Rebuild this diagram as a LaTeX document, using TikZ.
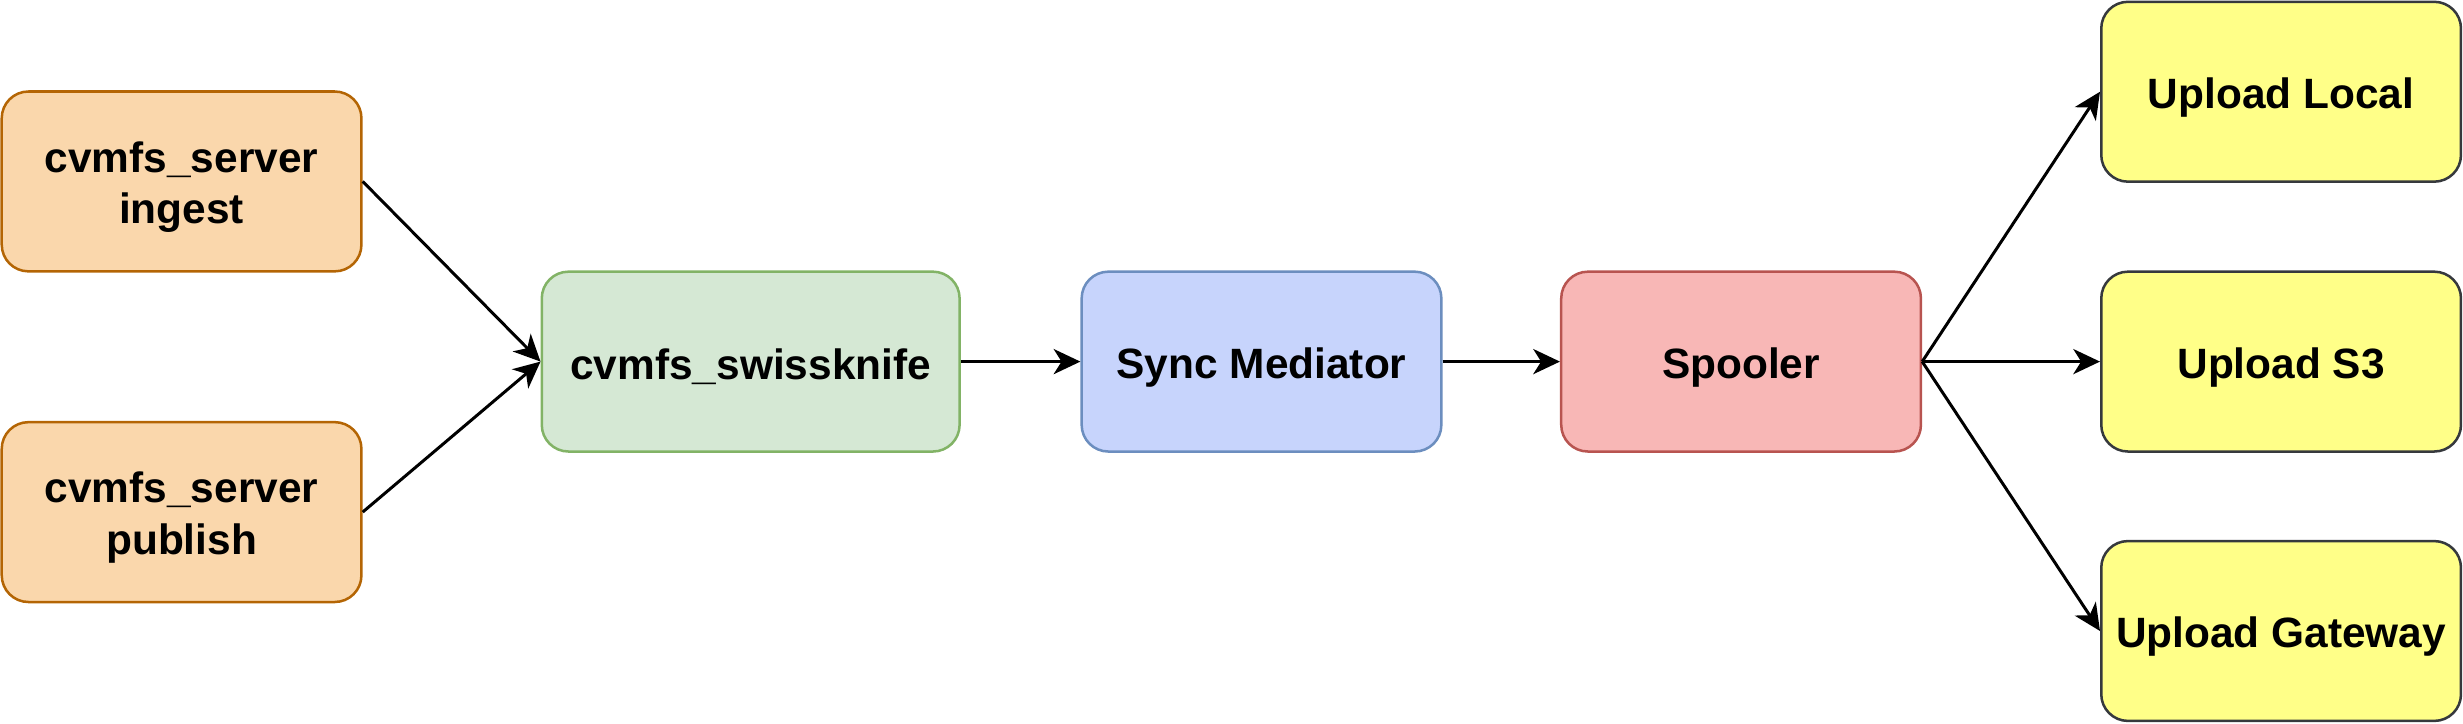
\documentclass[tikz,border=0pt]{standalone}
\usepackage{fontspec}
\setmainfont{Liberation Sans}
\usetikzlibrary{arrows.meta}
\definecolor{orfill}{HTML}{FAD7AC}\definecolor{ordraw}{HTML}{B46504}
\definecolor{grfill}{HTML}{D5E8D4}\definecolor{grdraw}{HTML}{82B366}
\definecolor{blfill}{HTML}{C7D4FC}\definecolor{bldraw}{HTML}{6C8EBF}
\definecolor{rdfill}{HTML}{F8B7B6}\definecolor{rddraw}{HTML}{B85450}
\definecolor{ylfill}{HTML}{FFFF88}\definecolor{yldraw}{HTML}{36393D}
\tikzset{
  box/.style={draw, rectangle, rounded corners=17pt, line width=1.6pt,
    inner sep=0pt, minimum width=229pt, minimum height=114.5pt,
    label={[boxtext]center:{#1}}},
  boxtext/.style={align=center, font=\fontsize{27}{32.6}\selectfont\bfseries,
    inner sep=0pt, yshift=-3.5pt},
  orbox/.style={box={#1}, fill=orfill, draw=ordraw},
  grbox/.style={box={#1}, fill=grfill, draw=grdraw, minimum width=266pt},
  blbox/.style={box={#1}, fill=blfill, draw=bldraw},
  rdbox/.style={box={#1}, fill=rdfill, draw=rddraw},
  ylbox/.style={box={#1}, fill=ylfill, draw=yldraw},
  conn/.style={line width=1.9pt, -{Stealth[length=17pt,width=16pt,inset=5pt]}},
}
\begin{document}
\begin{tikzpicture}[x=1pt,y=-1pt]
\useasboundingbox (0,0) rectangle (1568,460.3);
\node[orbox={cvmfs\_server\\ingest}] (ingest) at (115.6,115.5) {};
\node[orbox={cvmfs\_server\\publish}] (publish) at (115.6,326) {};
\node[grbox={cvmfs\_swissknife}] (swiss) at (477.9,230.2) {};
\node[blbox={Sync Mediator}] (sync) at (803.1,230.2) {};
\node[rdbox={Spooler}] (spool) at (1108.4,230.2) {};
\node[ylbox={Upload Local}] (local) at (1452.2,58.4) {};
\node[ylbox={Upload S3}] (s3) at (1452.2,230.2) {};
\node[ylbox={Upload Gateway}] (gw) at (1452.2,401.7) {};
\draw[conn] (ingest.east) -- (swiss.west);
\draw[conn] (publish.east) -- (swiss.west);
\draw[conn] (swiss.east) -- (sync.west);
\draw[conn] (sync.east) -- (spool.west);
\draw[conn] (spool.east) -- (local.west);
\draw[conn] (spool.east) -- (s3.west);
\draw[conn] (spool.east) -- (gw.west);
\end{tikzpicture}
\end{document}
